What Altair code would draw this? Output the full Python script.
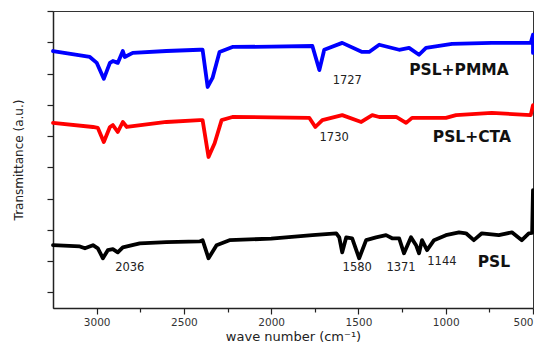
import altair as alt
import pandas as pd

# --- spectra (wavenumber in cm^-1, transmittance in a.u.) ---
blue_wn = [3250, 3039, 2999, 2959, 2924, 2907, 2879, 2850, 2839, 2793, 2600, 2410, 2393, 2364, 2336,
           2296, 2222, 2000, 1764, 1724, 1696, 1593, 1479, 1439, 1399, 1381, 1267, 1210, 1153, 1113,
           964, 736, 513, 500, 500]
blue_val = [7.72, 7.53, 7.34, 6.83, 7.34, 7.40, 7.34, 7.72, 7.53, 7.66, 7.72, 7.76, 7.76, 6.57, 6.86,
            7.69, 7.85, 7.86, 7.88, 7.11, 7.76, 7.98, 7.69, 7.69, 7.85, 7.92, 7.76, 7.82, 7.60, 7.82,
            7.95, 7.98, 7.98, 8.24, 7.66]

red_wn = [3250, 3021, 2993, 2959, 2924, 2907, 2879, 2850, 2827, 2600, 2410, 2393, 2359, 2324, 2284,
          2222, 2000, 1781, 1747, 1707, 1593, 1484, 1421, 1381, 1284, 1227, 1193, 999, 941, 736,
          513, 500]
red_val = [5.42, 5.29, 5.26, 4.81, 5.29, 5.35, 5.13, 5.45, 5.29, 5.45, 5.51, 5.51, 4.33, 4.77, 5.51,
           5.61, 5.60, 5.58, 5.29, 5.51, 5.67, 5.45, 5.67, 5.61, 5.61, 5.42, 5.58, 5.58, 5.67, 5.74,
           5.67, 5.99]

black_wn = [3250, 3096, 3067, 3021, 2993, 2964, 2936, 2907, 2879, 2850, 2753, 2600, 2410, 2393, 2359,
            2313, 2239, 2000, 1764, 1627, 1610, 1593, 1570, 1536, 1496, 1456, 1399, 1342, 1307, 1267,
            1239, 1199, 1170, 1153, 1136, 1107, 1067, 999, 924, 884, 839, 793, 696, 621, 564,
            524, 505, 500]
black_val = [1.51, 1.47, 1.41, 1.51, 1.41, 1.09, 1.35, 1.38, 1.28, 1.44, 1.57, 1.61, 1.63, 1.67, 1.09,
             1.51, 1.67, 1.72, 1.83, 1.89, 1.76, 1.28, 1.76, 1.73, 1.09, 1.67, 1.76, 1.83, 1.73, 1.73,
             1.25, 1.76, 1.51, 1.25, 1.67, 1.35, 1.67, 1.83, 1.92, 1.89, 1.67, 1.89, 1.83, 1.92, 1.67,
             1.89, 1.90, 3.27]

series_names = ["PSL+PMMA", "PSL+CTA", "PSL"]
series_colors = ["#0000FF", "#FF0000", "#000000"]

# --- annotations ---
peak_text = ["1727", "1730", "2036", "1580", "1371", "1144"]
peak_wn = [1564, 1639, 2810, 1507, 1256, 1022]
peak_val = [6.76, 4.94, 0.77, 0.77, 0.77, 0.96]

name_text = ["PSL+PMMA", "PSL+CTA", "PSL"]
name_wn = [924, 850, 724]
name_val = [7.12, 4.97, 0.96]

x_ticks = [500, 750, 1000, 1250, 1500, 1750, 2000, 2250, 2500, 2750, 3000]
y_ticks = [0, 1, 2, 3, 4, 5, 6, 7, 8, 9]

rows = []
for name, wn, val in zip(series_names, [blue_wn, red_wn, black_wn], [blue_val, red_val, black_val]):
    for i, (w, v) in enumerate(zip(wn, val)):
        rows.append({"series": name, "wn": w, "val": v, "idx": i})
df = pd.DataFrame(rows)

peaks = pd.DataFrame({"text": peak_text, "wn": peak_wn, "val": peak_val})
names = pd.DataFrame({"text": name_text, "wn": name_wn, "val": name_val})

xscale = alt.Scale(domain=[500, 3250], reverse=True, nice=False, zero=False)
yscale = alt.Scale(domain=[-0.5, 9], nice=False, zero=False)

xaxis = alt.Axis(
    values=x_ticks, format="d", tickCount=40,
    labelExpr="datum.value % 500 === 0 ? datum.label : ''",
    tickSize={"condition": {"test": "datum.value % 500 === 0", "value": 6}, "value": 4},
    title="wave number (cm⁻¹)",
    titleFont="DejaVu Sans", titleFontSize=13, titleFontWeight="normal", titleColor="#222",
    titlePadding=3,
    labelFont="DejaVu Sans", labelFontSize=10.5, labelColor="#333", labelPadding=3,
    labelFlush=True, labelFlushOffset=0, labelOverlap=False, labelBound=False,
    grid=False, domainColor="#222", domainWidth=1.5, tickColor="#222", tickWidth=1.2,
)
yaxis = alt.Axis(
    values=y_ticks, tickCount=40, labelExpr="''", tickSize=6, labelOverlap=False,
    title="Transmittance (a.u.)",
    titleFont="DejaVu Sans", titleFontSize=12, titleFontWeight="normal", titleColor="#222",
    titlePadding=20,
    grid=False, domainColor="#222", domainWidth=1.5, tickColor="#222", tickWidth=1.2,
)

lines = alt.Chart(df).mark_line(strokeWidth=3.8, strokeJoin="round", strokeCap="round").encode(
    x=alt.X("wn:Q", scale=xscale, axis=xaxis),
    y=alt.Y("val:Q", scale=yscale, axis=yaxis),
    color=alt.Color("series:N", scale=alt.Scale(domain=series_names, range=series_colors), legend=None),
    order="idx:Q",
)

peak_labels = alt.Chart(peaks).mark_text(
    font="DejaVu Sans", fontSize=11.5, color="#222", align="center", baseline="middle"
).encode(x=alt.X("wn:Q", scale=xscale), y=alt.Y("val:Q", scale=yscale), text="text:N")

name_labels = alt.Chart(names).mark_text(
    font="DejaVu Sans", fontSize=15.5, fontWeight="bold", color="#111", align="center", baseline="middle"
).encode(x=alt.X("wn:Q", scale=xscale), y=alt.Y("val:Q", scale=yscale), text="text:N")

chart = alt.layer(lines, peak_labels, name_labels).properties(
    width=480, height=297,
    autosize=alt.AutoSizeParams(type="none"),
    padding={"left": 45, "top": 3, "right": 1, "bottom": 36},
    background="white",
).configure_view(stroke="#333", strokeWidth=1)

chart.save("out.html", embed_options={"renderer": "svg", "actions": False})
